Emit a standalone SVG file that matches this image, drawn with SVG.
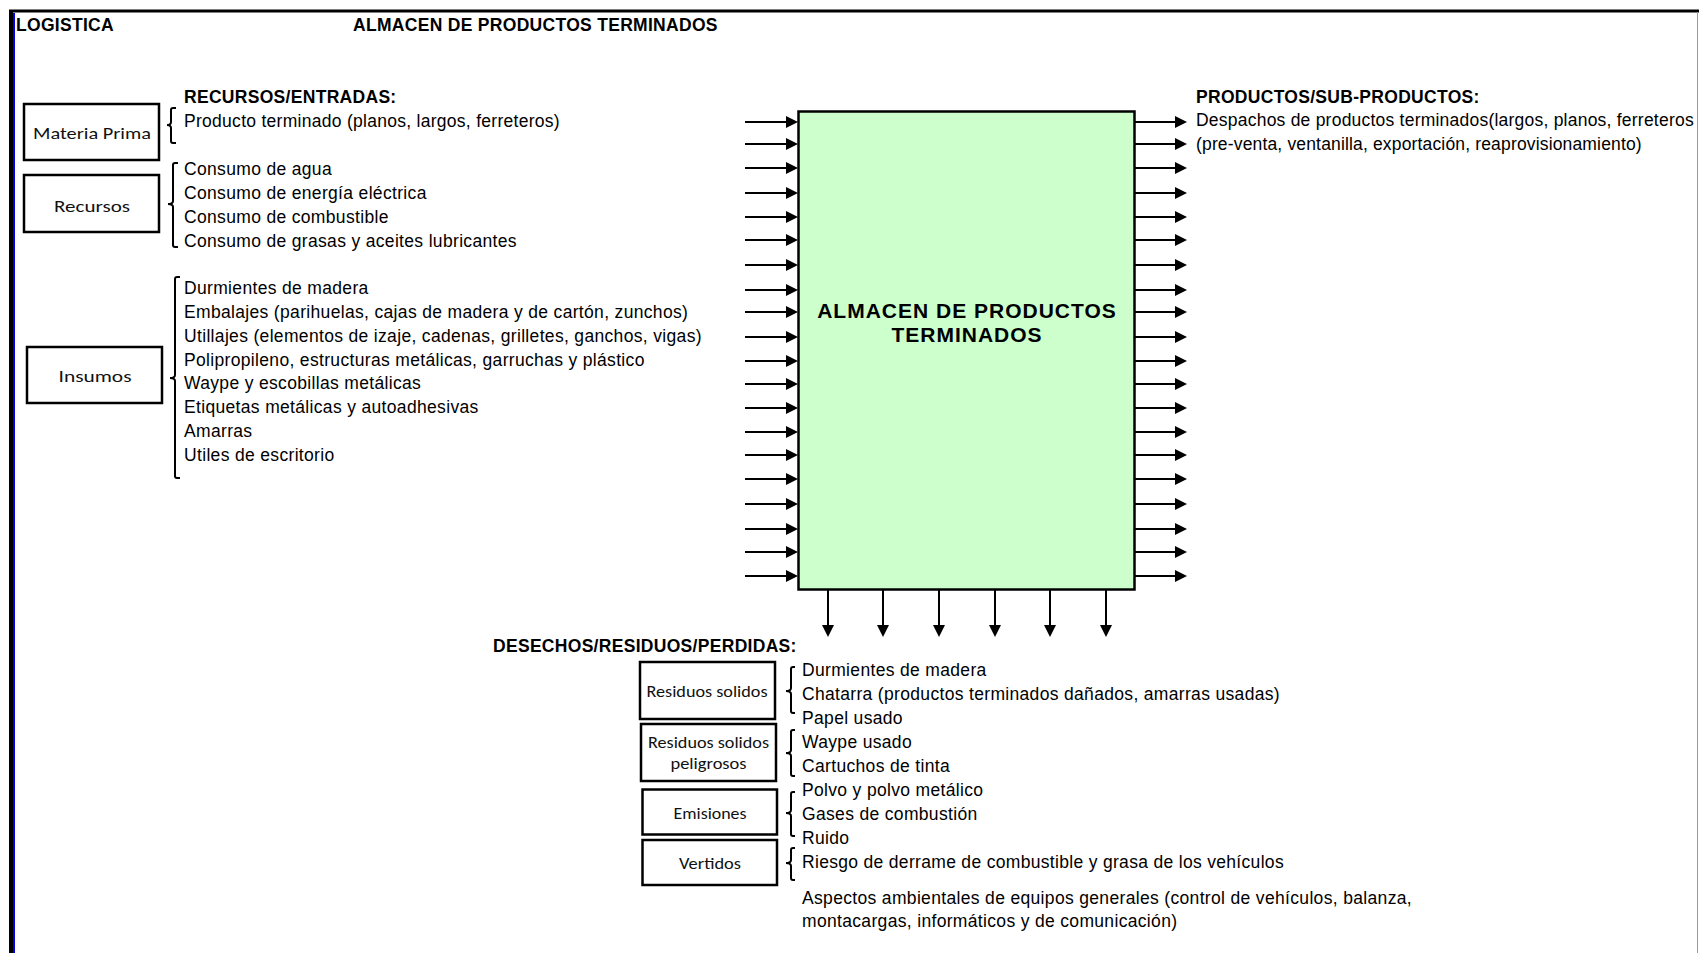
<svg xmlns="http://www.w3.org/2000/svg" width="1699" height="953" viewBox="0 0 1699 953">
<defs>
<marker id="ah" markerWidth="12" markerHeight="12" refX="6" refY="6" orient="auto" markerUnits="userSpaceOnUse"><path d="M0,0 L12,6 L0,12 z" fill="#000"/></marker>
<style>
.t{font-family:"Liberation Sans",Arial,sans-serif;font-size:17.5px;letter-spacing:0.33px;fill:#000}
.b{font-family:"Liberation Sans",Arial,sans-serif;font-size:17.5px;letter-spacing:0.3px;font-weight:bold;fill:#000}
.c{font-family:"Liberation Sans",Arial,sans-serif;font-size:21px;letter-spacing:1px;font-weight:bold;fill:#000}
.l{font-family:Carlito,Lato,"Open Sans",sans-serif;font-size:16px;fill:#111}
.box{fill:#fff;stroke:#000;stroke-width:2.5}
.br{fill:none;stroke:#000;stroke-width:2}
.ar{stroke:#000;stroke-width:2;fill:none;marker-end:url(#ah)}
</style>
</defs>
<rect x="0" y="0" width="1699" height="953" fill="#fff"/>
<g id="frame">
<line x1="9" y1="11" x2="1699" y2="11" stroke="#000" stroke-width="3"/>
<line x1="11" y1="10" x2="11" y2="953" stroke="#000" stroke-width="4"/>
<line x1="14" y1="13" x2="14" y2="953" stroke="#0000ee" stroke-width="2"/>
<line x1="1697.5" y1="12" x2="1697.5" y2="953" stroke="#999" stroke-width="1"/>
</g>
<g id="header">
<text class="b" x="16" y="31" letter-spacing="0.6">LOGISTICA</text>
<text class="b" x="353" y="31">ALMACEN DE PRODUCTOS TERMINADOS</text>
</g>
<g id="connectors">
<path class="ar" d="M745,122H792"/><path class="ar" d="M745,144H792"/><path class="ar" d="M745,168H792"/><path class="ar" d="M745,193H792"/><path class="ar" d="M745,217H792"/><path class="ar" d="M745,240H792"/><path class="ar" d="M745,265H792"/><path class="ar" d="M745,290H792"/><path class="ar" d="M745,312H792"/><path class="ar" d="M745,337H792"/>
<path class="ar" d="M745,361H792"/><path class="ar" d="M745,384H792"/><path class="ar" d="M745,408H792"/><path class="ar" d="M745,432H792"/><path class="ar" d="M745,455H792"/><path class="ar" d="M745,479H792"/><path class="ar" d="M745,504H792"/><path class="ar" d="M745,529H792"/><path class="ar" d="M745,552H792"/><path class="ar" d="M745,576H792"/>
<path class="ar" d="M1135,122H1181"/><path class="ar" d="M1135,144H1181"/><path class="ar" d="M1135,168H1181"/><path class="ar" d="M1135,193H1181"/><path class="ar" d="M1135,217H1181"/><path class="ar" d="M1135,240H1181"/><path class="ar" d="M1135,265H1181"/><path class="ar" d="M1135,290H1181"/><path class="ar" d="M1135,312H1181"/><path class="ar" d="M1135,337H1181"/>
<path class="ar" d="M1135,361H1181"/><path class="ar" d="M1135,384H1181"/><path class="ar" d="M1135,408H1181"/><path class="ar" d="M1135,432H1181"/><path class="ar" d="M1135,455H1181"/><path class="ar" d="M1135,479H1181"/><path class="ar" d="M1135,504H1181"/><path class="ar" d="M1135,529H1181"/><path class="ar" d="M1135,552H1181"/><path class="ar" d="M1135,576H1181"/>
<path class="ar" d="M828,589V631"/><path class="ar" d="M883,589V631"/><path class="ar" d="M939,589V631"/><path class="ar" d="M995,589V631"/><path class="ar" d="M1050,589V631"/><path class="ar" d="M1106,589V631"/>
</g>
<g id="process">
<rect x="798.5" y="111.5" width="336" height="478" fill="#ccffcc" stroke="#000" stroke-width="2.5"/>
<text class="c" x="967" y="318" text-anchor="middle">ALMACEN DE PRODUCTOS</text>
<text class="c" x="967" y="342" text-anchor="middle">TERMINADOS</text>
</g>
<g id="inputs">
<text class="b" x="184" y="103">RECURSOS/ENTRADAS:</text>
<text class="t" x="184" y="126.5" textLength="376" lengthAdjust="spacing">Producto terminado (planos, largos, ferreteros)</text>
<text class="t" x="184" y="175">Consumo de agua</text>
<text class="t" x="184" y="199">Consumo de energía eléctrica</text>
<text class="t" x="184" y="223">Consumo de combustible</text>
<text class="t" x="184" y="247">Consumo de grasas y aceites lubricantes</text>
<text class="t" x="184" y="293.5">Durmientes de madera</text>
<text class="t" x="184" y="317.5">Embalajes (parihuelas, cajas de madera y de cartón, zunchos)</text>
<text class="t" x="184" y="341.5">Utillajes (elementos de izaje, cadenas, grilletes, ganchos, vigas)</text>
<text class="t" x="184" y="365.5">Polipropileno, estructuras metálicas, garruchas y plástico</text>
<text class="t" x="184" y="389">Waype y escobillas metálicas</text>
<text class="t" x="184" y="413">Etiquetas metálicas y autoadhesivas</text>
<text class="t" x="184" y="437">Amarras</text>
<text class="t" x="184" y="461">Utiles de escritorio</text>
</g>
<g id="materia-prima">
<rect class="box" x="24" y="104" width="135" height="56"/>
<text class="l" x="92" y="139" text-anchor="middle" textLength="118" lengthAdjust="spacingAndGlyphs">Materia Prima</text>
<path class="br" d="M176,108 H173 Q171,108 171,110 V122 Q171,125 167,125 Q171,125 171,128 V141 Q171,143 173,143 H176"/>
</g>
<g id="recursos">
<rect class="box" x="24" y="175" width="135" height="57"/>
<text class="l" x="92" y="212" text-anchor="middle" textLength="76" lengthAdjust="spacingAndGlyphs">Recursos</text>
<path class="br" d="M178,163 H175 Q173,163 173,165 V201 Q173,204 168,204 Q173,204 173,207 V245 Q173,247 175,247 H178"/>
</g>
<g id="insumos">
<rect class="box" x="27" y="347" width="135" height="56"/>
<text class="l" x="95" y="382" text-anchor="middle" textLength="73" lengthAdjust="spacingAndGlyphs">Insumos</text>
<path class="br" d="M180,277 H177 Q175,277 175,279 V375 Q175,378 170,378 Q175,378 175,381 V476 Q175,478 177,478 H180"/>
</g>
<g id="outputs">
<text class="b" x="1196" y="103">PRODUCTOS/SUB-PRODUCTOS:</text>
<text class="t" x="1196" y="126" textLength="498" lengthAdjust="spacing">Despachos de productos terminados(largos, planos, ferreteros</text>
<text class="t" x="1196" y="150" textLength="446" lengthAdjust="spacing">(pre-venta, ventanilla, exportación, reaprovisionamiento)</text>
</g>
<g id="wastes">
<text class="b" x="493" y="652">DESECHOS/RESIDUOS/PERDIDAS:</text>
<text class="t" x="802" y="676">Durmientes de madera</text>
<text class="t" x="802" y="700" textLength="478" lengthAdjust="spacing">Chatarra (productos terminados dañados, amarras usadas)</text>
<text class="t" x="802" y="724">Papel usado</text>
<text class="t" x="802" y="748">Waype usado</text>
<text class="t" x="802" y="772">Cartuchos de tinta</text>
<text class="t" x="802" y="796">Polvo y polvo metálico</text>
<text class="t" x="802" y="820">Gases de combustión</text>
<text class="t" x="802" y="844">Ruido</text>
<text class="t" x="802" y="868" textLength="482" lengthAdjust="spacing">Riesgo de derrame de combustible y grasa de los vehículos</text>
<text class="t" x="802" y="904" textLength="610" lengthAdjust="spacing">Aspectos ambientales de equipos generales (control de vehículos, balanza,</text>
<text class="t" x="802" y="927">montacargas, informáticos y de comunicación)</text>
</g>
<g id="residuos-solidos">
<rect class="box" x="640" y="662" width="135" height="57"/>
<text class="l" x="707" y="697" text-anchor="middle" textLength="121" lengthAdjust="spacingAndGlyphs">Residuos solidos</text>
<path class="br" d="M795,667 H793 Q791,667 791,669 V688 Q791,691 786,691 Q791,691 791,694 V711 Q791,713 793,713 H795"/>
</g>
<g id="residuos-peligrosos">
<rect class="box" x="641" y="724" width="135" height="57"/>
<text class="l" x="708.5" y="748" text-anchor="middle" textLength="121" lengthAdjust="spacingAndGlyphs">Residuos solidos</text>
<text class="l" x="708.5" y="769" text-anchor="middle" textLength="76" lengthAdjust="spacingAndGlyphs">peligrosos</text>
<path class="br" d="M795,730 H793 Q791,730 791,732 V750 Q791,753 786,753 Q791,753 791,756 V774 Q791,776 793,776 H795"/>
</g>
<g id="emisiones">
<rect class="box" x="642.5" y="789.5" width="134.5" height="45"/>
<text class="l" x="710" y="819" text-anchor="middle" textLength="73" lengthAdjust="spacingAndGlyphs">Emisiones</text>
<path class="br" d="M795,792 H793 Q791,792 791,794 V810 Q791,813 786,813 Q791,813 791,816 V834 Q791,836 793,836 H795"/>
</g>
<g id="vertidos">
<rect class="box" x="642.5" y="840" width="134.5" height="45"/>
<text class="l" x="710" y="869" text-anchor="middle" textLength="62" lengthAdjust="spacingAndGlyphs">Vertidos</text>
<path class="br" d="M795,848 H793 Q791,848 791,850 V860 Q791,863 786,863 Q791,863 791,866 V878 Q791,880 793,880 H795"/>
</g>
</svg>
